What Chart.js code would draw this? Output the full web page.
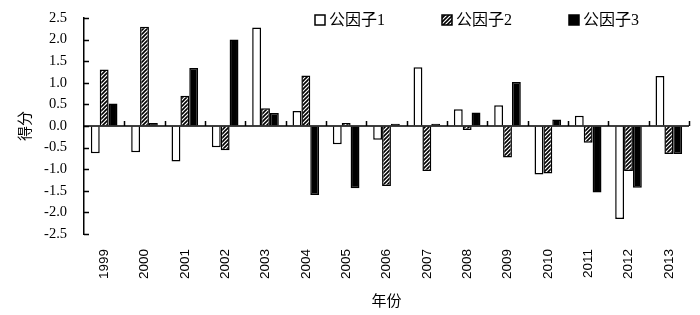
<!DOCTYPE html>
<html>
<head>
<meta charset="utf-8">
<script src="https://cdn.jsdelivr.net/npm/chart.js@4.4.1/dist/chart.umd.min.js"></script>
<style>
  html, body { margin: 0; padding: 0; background: #fff; }
</style>
</head>
<body>
<canvas id="factorChart" width="700" height="315"></canvas>
<script>
// ---- data ----
const years = ['1999', '2000', '2001', '2002', '2003', '2004', '2005', '2006',
               '2007', '2008', '2009', '2010', '2011', '2012', '2013'];
const factor1 = [-0.63, -0.61, -0.82, -0.49, 2.28, 0.35, -0.42, -0.32, 1.36, 0.39, 0.48, -1.12, 0.24, -2.15, 1.16];
const factor2 = [1.31, 2.30, 0.70, -0.56, 0.41, 1.17, 0.07, -1.39, -1.04, -0.09, -0.73, -1.10, -0.39, -1.04, -0.65];
const factor3 = [0.52, 0.07, 1.34, 2.00, 0.30, -1.60, -1.44, 0.05, 0.05, 0.31, 1.02, 0.15, -1.54, -1.43, -0.65];
const seriesNames = ['公因子1', '公因子2', '公因子3'];
const yMin = -2.5, yMax = 2.5, yStep = 0.5;

const FONT_SERIF = '"Liberation Serif", "Noto Sans CJK SC", serif';
const FONT_SANS = '"Liberation Sans", "Noto Sans CJK SC", sans-serif';

// diagonal hatch fill for factor 2
function makeHatch() {
  const c = document.createElement('canvas');
  c.width = 4; c.height = 4;
  const g = c.getContext('2d');
  g.fillStyle = '#fff';
  g.fillRect(0, 0, 4, 4);
  g.strokeStyle = '#000';
  g.lineWidth = 1.6;
  g.beginPath();
  g.moveTo(0, 4); g.lineTo(4, 0);
  g.moveTo(-1, 1); g.lineTo(1, -1);
  g.moveTo(3, 5); g.lineTo(5, 3);
  g.stroke();
  return g.createPattern(c, 'repeat');
}
const hatch = makeHatch();
const fills = ['#ffffff', hatch, '#000000'];

// zero line with upward ticks, inward ticks on the y axis, legend inside the plot
const axisDecor = {
  id: 'axisDecor',
  afterDatasetsDraw(chart) {
    const { ctx, chartArea, scales } = chart;
    const x = scales.x, y = scales.y;
    const y0 = y.getPixelForValue(0);
    ctx.save();
    ctx.strokeStyle = '#000';
    ctx.lineWidth = 1.5;
    ctx.beginPath();
    ctx.moveTo(chartArea.left, y0);
    ctx.lineTo(chartArea.right, y0);
    for (let i = 1; i <= years.length; i++) {
      const bx = Math.round(x.getPixelForValue(i - 0.5)) + 0.5;
      ctx.moveTo(bx, y0);
      ctx.lineTo(bx, y0 - 5);
    }
    for (let v = yMin; v <= yMax + 1e-9; v += yStep) {
      const py = Math.round(y.getPixelForValue(v)) + 0.5;
      ctx.moveTo(chartArea.left, py);
      ctx.lineTo(chartArea.left + 5, py);
    }
    ctx.stroke();

    // legend
    const startX = chartArea.left + 231;
    const gap = 127;
    const cy = 20;
    ctx.font = '16px ' + FONT_SERIF;
    ctx.textBaseline = 'middle';
    seriesNames.forEach((name, i) => {
      const lx = startX + i * gap;
      ctx.fillStyle = fills[i];
      ctx.fillRect(lx, cy - 5, 10, 10);
      ctx.lineWidth = 1.5;
      ctx.strokeRect(lx, cy - 5, 10, 10);
      ctx.fillStyle = '#000';
      ctx.fillText(name, lx + 14, cy + 1);
    });
    ctx.restore();
  }
};

const ctx = document.getElementById('factorChart');
new Chart(ctx, {
  type: 'bar',
  data: {
    labels: years,
    datasets: [factor1, factor2, factor3].map((vals, i) => ({
      label: seriesNames[i],
      data: vals,
      backgroundColor: fills[i],
      borderColor: '#000',
      borderWidth: 1.5,
      categoryPercentage: 0.66,
      barPercentage: 1.0
    }))
  },
  options: {
    responsive: false,
    animation: false,
    devicePixelRatio: 1,
    layout: { padding: { top: 18, right: 11, left: 0, bottom: 0 } },
    plugins: { legend: { display: false }, tooltip: { enabled: false } },
    scales: {
      x: {
        grid: { display: false },
        border: { display: false },
        ticks: {
          color: '#000',
          font: { family: FONT_SANS, size: 13.5 },
          minRotation: 90, maxRotation: 90,
          padding: 7,
          autoSkip: false
        },
        title: {
          display: true, text: '年份', color: '#000',
          font: { family: FONT_SERIF, size: 15 },
          padding: { top: 12, bottom: 4 }
        },
        afterFit(s) { s.height = 81; }
      },
      y: {
        min: yMin, max: yMax,
        // invisible outer ticks only to push the labels away from the axis
        grid: { display: true, drawOnChartArea: false, drawTicks: true, tickLength: 14, tickColor: 'rgba(0,0,0,0)' },
        border: { display: true, color: '#000', width: 1.5 },
        ticks: {
          stepSize: yStep,
          color: '#000',
          font: { family: FONT_SERIF, size: 14.5 },
          padding: 3,
          callback: v => Number(v).toFixed(1)
        },
        title: {
          display: true, text: '得分', color: '#000',
          font: { family: FONT_SERIF, size: 15 },
          padding: { top: 17, bottom: 0 }
        },
        afterFit(s) { s.width = 84; }
      }
    }
  },
  plugins: [axisDecor]
});
</script>
</body>
</html>
